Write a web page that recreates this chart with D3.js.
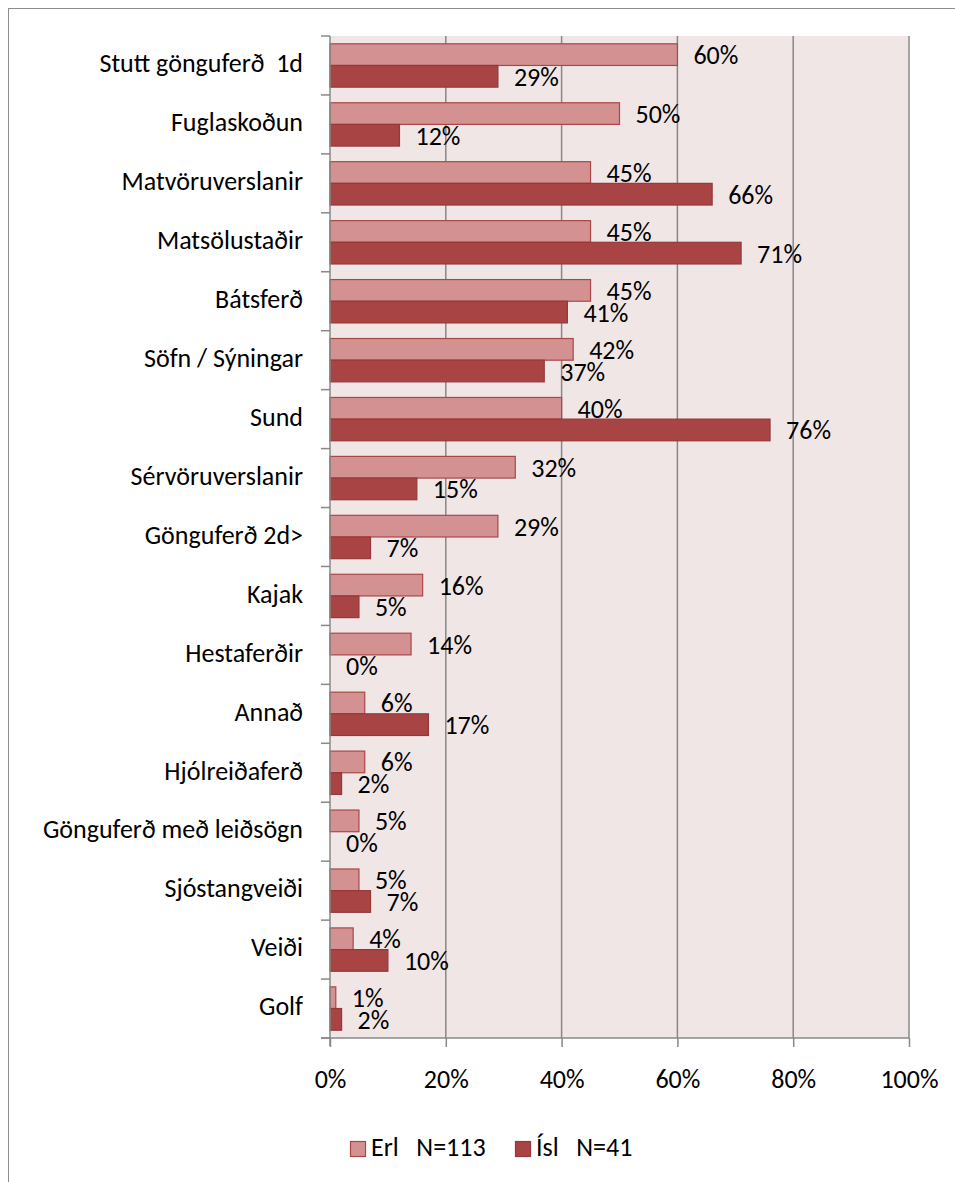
<!DOCTYPE html>
<html><head><meta charset="utf-8">
<script src="https://cdn.jsdelivr.net/npm/d3@7"></script>
<style>body{margin:0;background:#fff}svg{display:block}text{font-family:Carlito,Calibri,"Liberation Sans",sans-serif}</style>
</head><body><svg id="c" width="955" height="1182"></svg>
<script>
const categories = ["Stutt gönguferð  1d","Fuglaskoðun","Matvöruverslanir","Matsölustaðir","Bátsferð","Söfn / Sýningar","Sund","Sérvöruverslanir","Gönguferð 2d>","Kajak","Hestaferðir","Annað","Hjólreiðaferð","Gönguferð með leiðsögn","Sjóstangveiði","Veiði","Golf"];
const erl = [60,50,45,45,45,42,40,32,29,16,14,6,6,5,5,4,1];
const isl = [29,12,66,71,41,37,76,15,7,5,0,17,2,0,7,10,2];
const xTicks = [0,20,40,60,80,100];
const seriesNames = ["Erl   N=113","Ísl   N=41"];
const colors = {erlFill:"#D39191",erlStroke:"#A84848",islFill:"#A84443",islStroke:"#93393A"};

const svg = d3.select("#c");
svg.append("rect").attr("x",8.5).attr("y",8.5).attr("width",1000).attr("height",1300)
  .attr("fill","none").attr("stroke","#8c8c8c").attr("stroke-width",1);

const L=330,R=909,T=36,B=1038;
const fs = 26;
const x = d3.scaleLinear().domain([0,100]).range([L,R]);
const y = d3.scaleBand().domain(categories).range([T,B]);
const inner = d3.scaleBand().domain(["erl","isl"]).range([0,y.bandwidth()]).paddingOuter(0.36).paddingInner(0);

svg.append("rect").attr("x",L).attr("y",T).attr("width",R-L).attr("height",B-T).attr("fill","#F1E6E6");

// gridlines
svg.append("g").selectAll("line").data(xTicks.slice(1)).join("line")
  .attr("x1",d=>x(d)).attr("x2",d=>x(d)).attr("y1",T).attr("y2",B)
  .attr("stroke","#888").attr("stroke-width",1.5);

const data = categories.map((c,i)=>({c,erl:erl[i],isl:isl[i]}));
const g = svg.append("g");
g.selectAll("rect.erl").data(data).join("rect").attr("class","erl")
  .attr("x",L).attr("y",d=>y(d.c)+inner("erl")).attr("width",d=>x(d.erl)-L).attr("height",inner.bandwidth())
  .attr("fill",colors.erlFill).attr("stroke",colors.erlStroke).attr("stroke-width",1.2);
g.selectAll("rect.isl").data(data).join("rect").attr("class","isl")
  .attr("x",L).attr("y",d=>y(d.c)+inner("isl")).attr("width",d=>x(d.isl)-L).attr("height",inner.bandwidth())
  .attr("fill",colors.islFill).attr("stroke",colors.islStroke).attr("stroke-width",1.2);

// value labels
g.selectAll("text.le").data(data).join("text").attr("class","le")
  .attr("x",d=>x(d.erl)+16).attr("y",d=>y(d.c)+inner("erl")+inner.bandwidth()/2+9.5)
  .attr("font-size",fs).attr("fill","#000").text(d=>d.erl+"%");
g.selectAll("text.li").data(data).join("text").attr("class","li")
  .attr("x",d=>x(d.isl)+16).attr("y",d=>y(d.c)+inner("isl")+inner.bandwidth()/2+9.5)
  .attr("font-size",fs).attr("fill","#000").text(d=>d.isl+"%");

// y axis
const ya = svg.append("g").attr("transform",`translate(${L},0)`)
  .call(d3.axisLeft(y).tickSize(0).tickPadding(27));
ya.select(".domain").remove();
ya.selectAll("text").attr("font-size",fs).attr("fill","#000").attr("dy","0.26em")
  .style("white-space","pre").attr("font-family",null);
svg.append("line").attr("x1",L).attr("x2",L).attr("y1",T).attr("y2",B+8).attr("stroke","#888").attr("stroke-width",1.5);
svg.append("g").selectAll("line").data(d3.range(categories.length+1)).join("line")
  .attr("x1",L-9).attr("x2",L).attr("y1",i=>T+i*y.step()).attr("y2",i=>T+i*y.step())
  .attr("stroke","#888").attr("stroke-width",1.5);

// x axis
svg.append("line").attr("x1",L-9).attr("x2",R).attr("y1",B).attr("y2",B).attr("stroke","#888").attr("stroke-width",1.5);
const xa = svg.append("g").attr("transform",`translate(0,${B})`)
  .call(d3.axisBottom(x).tickValues(xTicks).tickFormat(d=>d+"%").tickSize(9));
xa.select(".domain").remove();
xa.selectAll("line").attr("stroke","#888").attr("stroke-width",1.5);
xa.selectAll("text").attr("font-size",fs).attr("fill","#000").attr("font-family",null)
  .attr("y",50).attr("dy",0);

// legend
const leg = svg.append("g");
const lx=[350,515];
seriesNames.forEach((n,i)=>{
  leg.append("rect").attr("x",lx[i]+0.5).attr("y",1141.5).attr("width",15).attr("height",15)
    .attr("fill",i?colors.islFill:colors.erlFill).attr("stroke",i?colors.islStroke:colors.erlStroke).attr("stroke-width",1.2);
  leg.append("text").attr("x",lx[i]+21).attr("y",1155.7)
    .attr("font-size",fs).style("white-space","pre").text(n);
});
</script></body></html>
